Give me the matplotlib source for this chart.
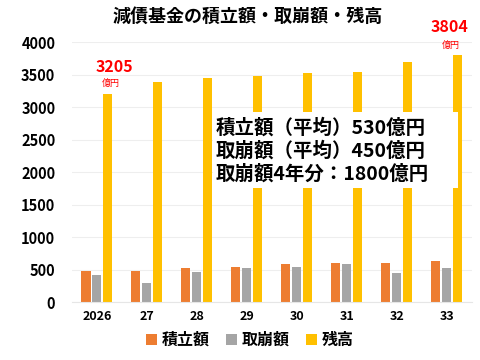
import numpy as np
import matplotlib
matplotlib.use("Agg")
import matplotlib.pyplot as plt
from matplotlib.patches import Rectangle

plt.rcParams['font.family'] = ['Noto Sans CJK JP', 'DejaVu Sans']

# データ
years = ["2026", "27", "28", "29", "30", "31", "32", "33"]
tsumitate = [475, 480, 520, 545, 585, 605, 605, 625]
torikuzushi = [415, 300, 460, 525, 540, 585, 450, 525]
zandaka = [3205, 3390, 3450, 3475, 3525, 3545, 3700, 3804]
series_names = ["積立額", "取崩額", "残高"]
colors = ["#ED7D31", "#A5A5A5", "#FFC000"]

fig = plt.figure(figsize=(4.8, 3.6), dpi=100)
ax = fig.add_axes([0.15, 0.161, 0.833, 0.722])

x = np.arange(len(years))
w = 0.22
for i, (vals, name) in enumerate(zip([tsumitate, torikuzushi, zandaka], series_names)):
    ax.bar(x + (i - 1) * w, vals, width=w * 0.82, color=colors[i], label=name, zorder=2)

ax.set_xlim(-0.5, len(years) - 0.5)
ax.set_ylim(0, 4000)
ax.set_yticks(range(0, 4001, 500))
ax.grid(axis="y", color="#EEEEEE", linewidth=0.8, zorder=0)
for s in ["top", "right", "left"]:
    ax.spines[s].set_visible(False)
ax.spines["bottom"].set_color("#E6E6E6")
ax.tick_params(axis="both", length=0)
ax.set_xticks(x)
ax.set_xticklabels(years, fontsize=9, fontweight="bold")
for lab in ax.get_yticklabels():
    lab.set_fontsize(10.5)
    lab.set_fontweight("bold")
ax.tick_params(axis="x", pad=6)
ax.tick_params(axis="y", pad=12)

# 注記
ax.text(x[0] + w + 0.13, zandaka[0] + 290, f"{zandaka[0]}", color="red", fontsize=11.5,
        fontweight="bold", ha="center", va="bottom")
ax.text(x[0] + w + 0.05, zandaka[0] + 90, "億円", color="red", fontsize=6.5,
        ha="center", va="bottom")
ax.text(x[-1] + w - 0.17, zandaka[-1] + 310, f"{zandaka[-1]}", color="red", fontsize=11.5,
        fontweight="bold", ha="center", va="bottom", clip_on=False)
ax.text(x[-1] + w - 0.15, zandaka[-1] + 75, "億円", color="red", fontsize=6.5, ha="center",
        va="bottom", clip_on=False)

# テキストボックス
ax.add_patch(Rectangle((0.3525, 0.438), 0.6125, 0.293, transform=ax.transAxes,
                       facecolor="white", edgecolor="none", zorder=3))
ax.text(0.36, 0.583, "積立額（平均）530億円\n取崩額（平均）450億円\n取崩額4年分：1800億円",
        transform=ax.transAxes, fontsize=14, fontweight="bold", va="center", ha="left",
        linespacing=1.22, zorder=4)

fig.text(0.515, 0.955, "減債基金の積立額・取崩額・残高", ha="center", va="center",
         fontsize=13, fontweight="bold")

fig.legend(loc="center", bbox_to_anchor=(0.52, 0.055), ncol=3, frameon=False,
           handlelength=0.7, handleheight=0.7, handletextpad=0.3, columnspacing=1.0,
           prop={"size": 11.5, "weight": "bold"})

fig.savefig("out.png", dpi=100)
